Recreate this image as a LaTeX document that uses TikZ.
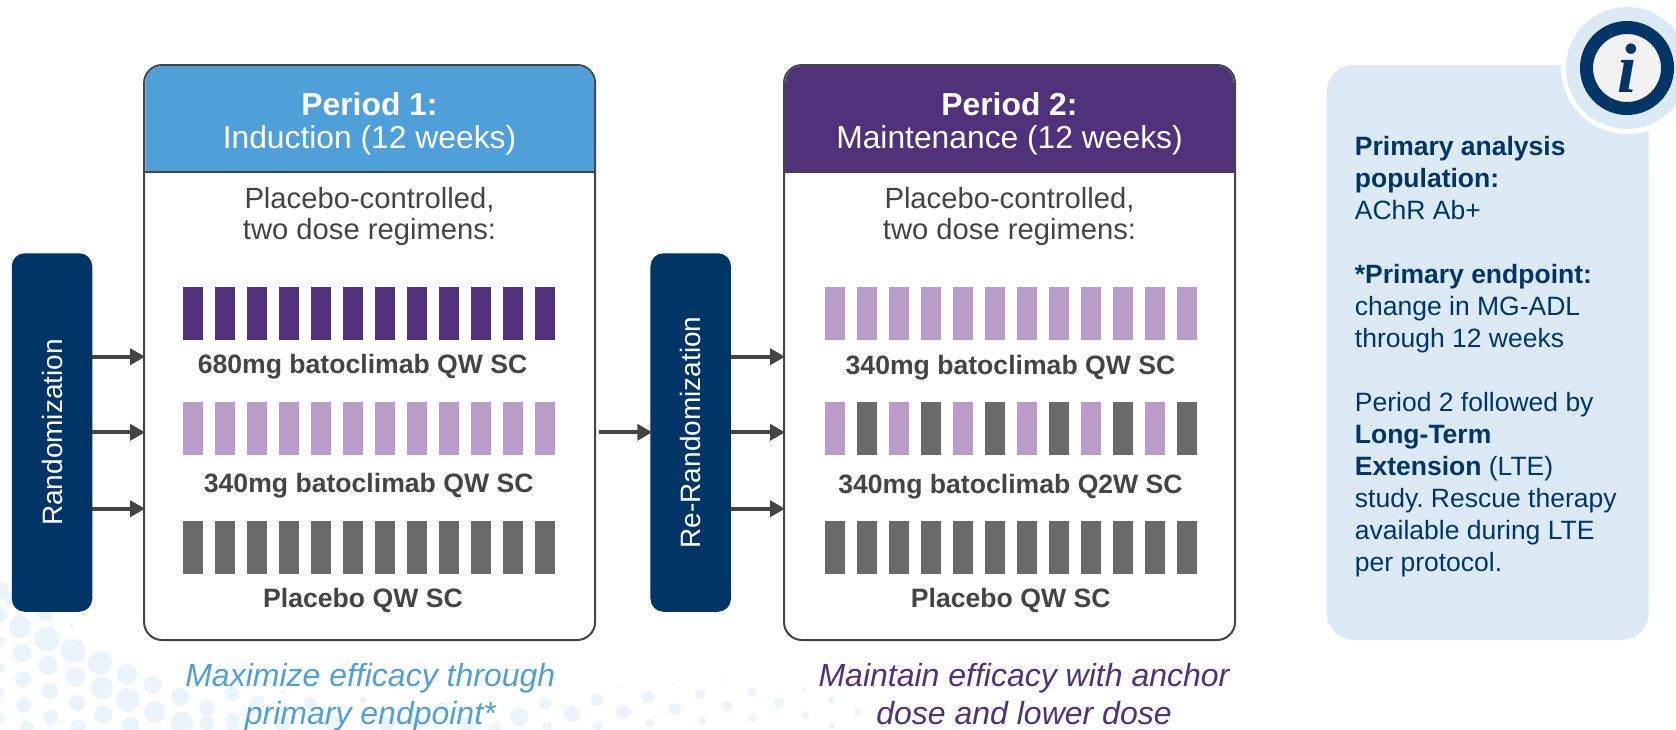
\documentclass[tikz,border=0pt]{standalone}
\usepackage{fontspec}
\setmainfont{Liberation Sans}
\newfontfamily\infofont{Liberation Serif}
\usetikzlibrary{arrows.meta}
\definecolor{hdrblue}{HTML}{4F9FD8}
\definecolor{hdrpurple}{HTML}{4F327A}
\definecolor{lilac}{HTML}{B99DC9}
\definecolor{barcgrey}{HTML}{6A6A6A}
\definecolor{navy}{HTML}{003566}
\definecolor{panelblue}{HTML}{DBEAF5}
\definecolor{inkgrey}{HTML}{444444}
\definecolor{dotblue}{HTML}{EBF4FB}
\tikzset{
  x=1pt,y=-1pt,
  framebox/.style={draw=inkgrey,line width=2pt,fill=white,rounded corners=18pt,inner sep=0pt,minimum width=451pt,minimum height=575pt},
  randbox/.style={fill=navy,text=white,rounded corners=13pt,inner sep=0pt,minimum width=80.5pt,minimum height=358.5pt,font=\fontsize{28}{32}\selectfont},
  conn/.style={draw=inkgrey,line width=4pt,-{Triangle[length=15pt,width=16pt]},shorten >=-2pt},
  hdrtext/.style={text=white,align=center,anchor=base,inner sep=0pt,font=\fontsize{31.8}{33.4}\selectfont},
  subtext/.style={text=inkgrey,align=center,anchor=base,inner sep=0pt,font=\fontsize{29.2}{31}\selectfont},
  armlabel/.style={text=inkgrey,anchor=base,inner sep=0pt,font=\fontsize{26.6}{30}\selectfont\bfseries},
  goaltext/.style={align=center,anchor=base,inner sep=0pt,font=\fontsize{32}{38}\selectfont\itshape},
  paneltext/.style={text=navy,align=left,anchor=north west,inner sep=0pt,font=\frenchspacing\fontsize{26.5}{32}\selectfont},
}
\newcommand{\barrow}[3]{\foreach \k in {0,...,11} \fill[#3] ({#1+32*\k},#2) rectangle ++(20,53);}
\begin{document}
\begin{tikzpicture}
\useasboundingbox (0,0) rectangle (1676,729);
\fill[white] (0,0) rectangle (1676,729);
\begin{scope}
\clip (0,0) rectangle (1676,729);
% background dots
\foreach \x/\y/\r in {20/627/11,47/639/12.5,73/651/12.5,100/663/12,127/674/10,153/685/9,180/697/9,207/708/8,233/720/7,
 22/653/9,48/665/9.5,75/677/10,102/688/11,128/700/12,155/712/11,182/723/11,
 23/679/8,50/691/8,77/703/8,103/714/9,130/726/9,
 24/705/7.5,51/717/7.5,78/728/8,
 45/613/8,13/600/8,0/590/9,0/615/7,0/642/5,0/668/5,0/693/5,0/718/5,27/728/7,72/625/2,
 545/703/6,572/714/8,519/717/9,597/700/6,623/712/7,648/697/6,675/709/6,700/694/5,727/706/5,752/692/4,779/703/5,805/715/4,
 650/723/4,702/721/4,753/718/4,598/726/5,547/727/5,495/730/6,442/708/6,804/689/2,673/683/1.5,725/680/1.5,622/686/1,
 831/700/3.5,857/712/3.5,832/726/3,882/697/1,
 258/703/7,310/703/6,363/700/3.5,283/692/2,232/694/7,387/723/8,333/723/8,283/723/8,207/723/7,233/728/6,417/720/8,467/724/8}
  \fill[dotblue] (\x,\y) circle (\r);

% frames
\node[framebox] (box1) at (369.6,352.5) {};
\node[framebox] (box2) at (1009.5,352.5) {};
\fill[hdrblue] (145.3,171.7) [rounded corners=17pt] -- (145.3,66) -- (594.0,66) [sharp corners] -- (594.0,171.7) -- cycle;
\fill[hdrpurple] (785.2,171.7) [rounded corners=17pt] -- (785.2,66) -- (1233.8,66) [sharp corners] -- (1233.8,171.7) -- cycle;
\draw[inkgrey,line width=2pt] (box1.west |- 0,171.7) -- (box1.east |- 0,171.7);
\draw[inkgrey,line width=2pt] (box2.west |- 0,171.7) -- (box2.east |- 0,171.7);

\node[hdrtext] (h1) at (369.5,148.7) {\textbf{Period 1:}\\Induction (12 weeks)};
\node[hdrtext] (h2) at (1009.5,148.7) {\textbf{Period 2:}\\Maintenance (12 weeks)};
\node[subtext] (s1) at (369.5,239.3) {Placebo-controlled,\\two dose regimens:};
\node[subtext] (s2) at (1009.5,239.3) {Placebo-controlled,\\two dose regimens:};

% randomization boxes
\node[randbox] (rand) at (52,432.5) {\rotatebox{90}{Randomization}};
\node[randbox] (rerand) at (690.7,432.5) {\rotatebox{90}{Re-Randomization}};

% dose bars
\barrow{183}{287}{hdrpurple}
\barrow{183}{402}{lilac}
\barrow{183}{521}{barcgrey}
\barrow{825}{287}{lilac}
\foreach \k in {0,2,...,10} \fill[lilac] ({825+32*\k},402) rectangle ++(20,53);
\foreach \k in {1,3,...,11} \fill[barcgrey] ({825+32*\k},402) rectangle ++(20,53);
\barrow{825}{521}{barcgrey}

\node[armlabel] (a1) at (362.6,373.7) {680mg batoclimab QW SC};
\node[armlabel] (a2) at (368.7,492.7) {340mg batoclimab QW SC};
\node[armlabel] (a3) at (363,607.7) {Placebo QW SC};
\node[armlabel] (b1) at (1010.5,374) {340mg batoclimab QW SC};
\node[armlabel] (b2) at (1010.5,493.7) {340mg batoclimab Q2W SC};
\node[armlabel] (b3) at (1010.7,607.7) {Placebo QW SC};

% connectors
\coordinate (r1) at (0,356.7);
\coordinate (r2) at (0,432.3);
\coordinate (r3) at (0,508.7);
\foreach \r in {r1,r2,r3} {
  \draw[conn] (rand.east |- \r) -- (box1.west |- \r);
  \draw[conn] (rerand.east |- \r) -- (box2.west |- \r);
}
\draw[conn] ([xshift=3pt]box1.east |- r2) -- (rerand.west |- r2);

% goals
\node[goaltext,text=hdrblue] (g1) at (370.3,724.5) {Maximize efficacy through\\primary endpoint*};
\node[goaltext,text=hdrpurple] (g2) at (1024,724.5) {Maintain efficacy with anchor\\dose and lower dose};

% info panel
\fill[panelblue,rounded corners=27pt] (1326.7,65) rectangle (1648.7,640);
\node[paneltext,anchor=west] (ptxt) at (1354.7,357) {\textbf{Primary analysis}\\\textbf{population:}\\AChR Ab+\\[32pt]\textbf{*Primary endpoint:}\\change in MG-ADL\\through 12 weeks\\[32pt]Period 2 followed by\\\textbf{Long-Term}\\\textbf{Extension} (LTE)\\study. Rescue therapy\\available during LTE\\per protocol.};
\node[circle,fill=white,minimum size=132pt,inner sep=0pt] (iw) at (1627,68) {};
\node[circle,fill=panelblue,minimum size=122pt,inner sep=0pt] (il) at (1627,68) {};
\node[circle,fill=black!5,draw=navy,line width=13pt,minimum size=81pt,inner sep=0pt] (ic) at (1627,68) {};
\node[text=navy,inner sep=0pt,font=\infofont\fontsize{70}{70}\selectfont\bfseries\itshape] (it) at (1627,68) {i};
\end{scope}
\end{tikzpicture}
\end{document}
